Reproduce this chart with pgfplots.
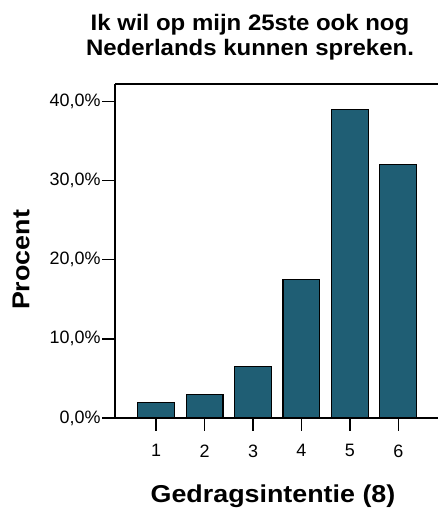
\documentclass[border=0pt]{standalone}
\usepackage{fontspec}
\setmainfont{Liberation Sans}
\usepackage{pgfplots}
\pgfplotsset{compat=1.18}
\definecolor{barcol}{RGB}{31,94,116}
\begin{document}
\begin{tikzpicture}[x=1bp,y=1bp]
\useasboundingbox (0,0) rectangle (438,511);
\begin{axis}[
  at={(115bp,93bp)}, anchor=south west,
  width=323bp, height=334bp, scale only axis,
  xmin=0.15, xmax=6.82, ymin=0, ymax=42.2,
  axis lines*=left,
  axis line style={line width=1.6pt,-},
  tick style={line width=1.6pt,black},
  tick align=outside, major tick length=13bp,
  xtick={1,2,3,4,5,6},
  xticklabels={1,2,3,4,5,6},
  ytick={0,10,20,30,40},
  yticklabels={0{,}0\%,10{,}0\%,20{,}0\%,30{,}0\%,40{,}0\%},
  tick label style={font=\fontsize{18}{21}\selectfont},
  xticklabel style={yshift=-10bp},
  yticklabel style={xshift=2bp},
  clip=false,
]
\addplot[ybar, bar width=0.76, fill=barcol, draw=black, line width=1.2pt]
  coordinates {(1,2.0) (2,3.0) (3,6.5) (4,17.5) (5,39.0) (6,32.0)};
\draw[line width=1.6pt] (rel axis cs:0,1) -- (rel axis cs:1,1);
\end{axis}
\node[align=center, font=\bfseries\fontsize{22.5}{25}\selectfont] at (250,474)
  {\scalebox{1.07}[1]{Ik wil op mijn 25ste ook nog}\\\scalebox{1.07}[1]{Nederlands kunnen spreken.}};
\node[font=\bfseries\fontsize{24.5}{28}\selectfont] at (273,15) {\scalebox{1.1}[1]{Gedragsintentie (8)}};
\node[font=\bfseries\fontsize{24.5}{28}\selectfont, rotate=90] at (21,251) {\scalebox{1.1}[1]{Procent}};
\end{tikzpicture}
\end{document}
